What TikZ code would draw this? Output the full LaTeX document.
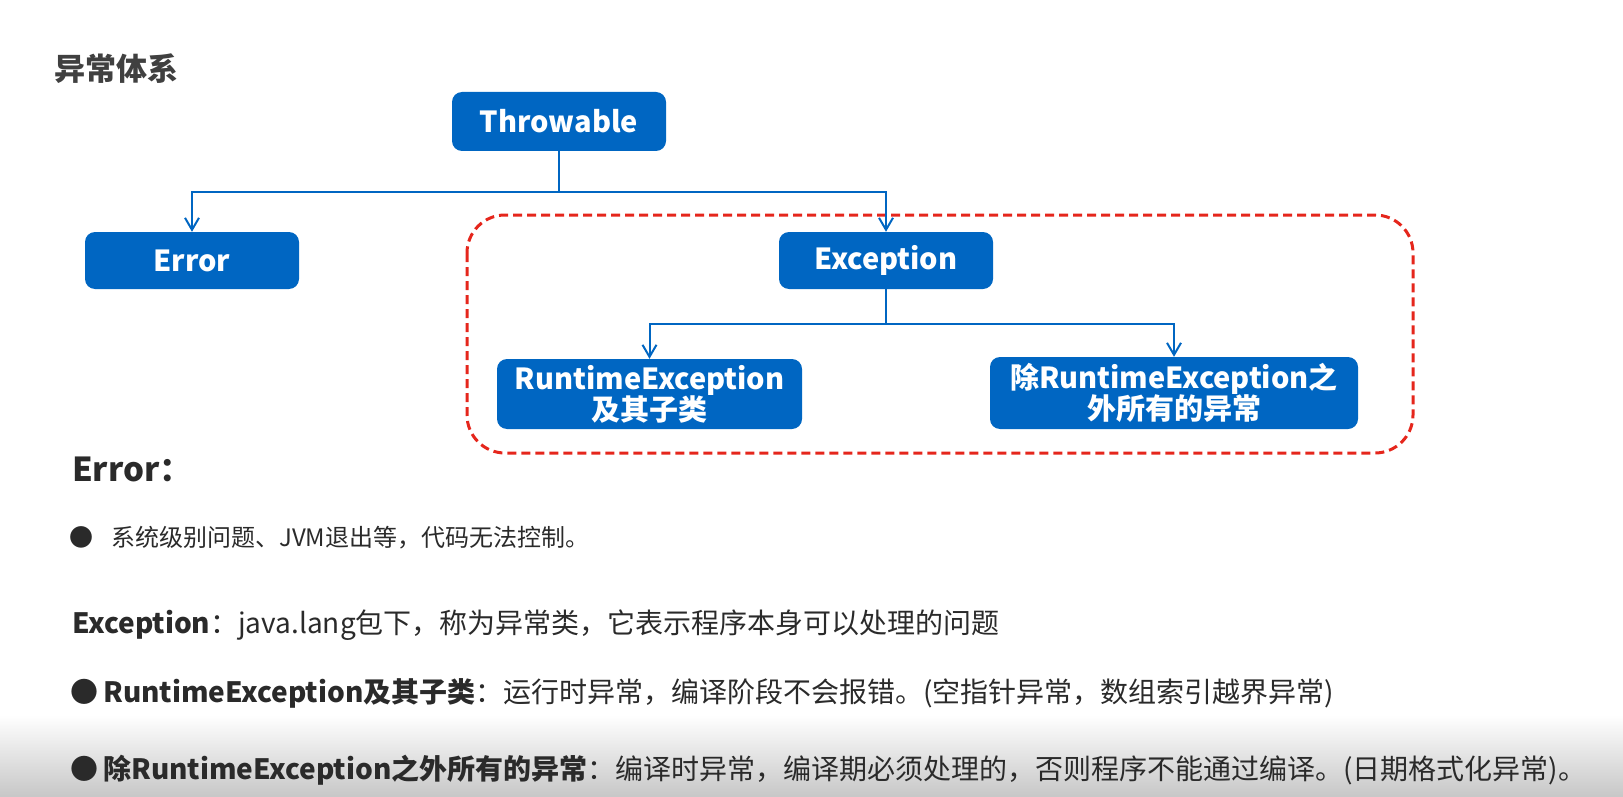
\documentclass[tikz,border=0pt]{standalone}
\usepackage{fontspec}
\usepackage{xcolor}
\usetikzlibrary{arrows.meta}
\setmainfont{Noto Sans CJK SC}
\definecolor{boxblue}{HTML}{0066C2}
\definecolor{dashred}{HTML}{E5261C}
\definecolor{ink}{HTML}{2A2A2A}
\tikzset{
  classbox/.style={fill=boxblue, rounded corners=10pt, text=white, inner sep=0pt,
    align=center, font=\bfseries\fontsize{29}{31}\selectfont},
  link/.style={draw=boxblue, line width=2pt},
  arr/.style={link, -{Straight Barb[length=12pt,width=14pt,line width=2pt]}},
  txt/.style={anchor=base west, inner sep=0pt, text=ink, font=\fontsize{28}{34}\selectfont}
}
\begin{document}
\begin{tikzpicture}[x=1pt, y=-1pt]
\useasboundingbox (0,0) rectangle (1623,797);
\shade[top color=white, bottom color=black!22] (0,715) rectangle (1623,797);
\node[txt, font=\bfseries\fontsize{31}{34}\selectfont, text=black!75] (title) at (54,81) {异常体系};
% hierarchy
\node[classbox, minimum width=214pt, minimum height=59pt] (throwable) at (559,121.5) {Throwable};
\node[classbox, minimum width=214pt, minimum height=57pt] (error) at (192,260.5) {Error};
\node[classbox, minimum width=214pt, minimum height=57pt] (exception) at (886,260.5) {Exception};
\node[classbox, minimum width=305pt, minimum height=70pt] (runtime) at (649.5,394) {RuntimeException\\及其子类};
\node[classbox, minimum width=368pt, minimum height=72pt] (checked) at (1174,393) {除RuntimeException之\\外所有的异常};
\draw[dashred, line width=3pt, dash pattern=on 9pt off 5pt, rounded corners=38pt] (467,215) rectangle (1413,453);
\coordinate (tsplit) at (559,192);
\coordinate (esplit) at (886,324);
\draw[link] (throwable.south) -- (tsplit);
\draw[arr] (tsplit) -| (error.north);
\draw[arr] (tsplit) -| (exception.north);
\draw[link] (exception.south) -- (esplit);
\draw[arr] (esplit) -| (runtime.north);
\draw[arr] (esplit) -| (checked.north);
% notes
\node[txt, font=\bfseries\fontsize{33}{36}\selectfont] (errhead) at (72,481) {Error：};
\node[txt, font=\fontsize{24}{28}\selectfont] (errbullet) at (69,546) {●};
\node[txt, font=\fontsize{24}{28}\selectfont] (errnote) at (111,546) {系统级别问题、JVM退出等，代码无法控制。};
\node[txt] (excnote) at (72,633) {\textbf{Exception}：java.lang包下，称为异常类，它表示程序本身可以处理的问题};
\node[txt] (rtbullet) at (70,702) {●};
\node[txt] (rtnote) at (103,702) {\textbf{RuntimeException及其子类}：运行时异常，编译阶段不会报错。(空指针异常，数组索引越界异常)};
\node[txt] (ckbullet) at (70,779) {●};
\node[txt] (cknote) at (103,779) {\textbf{除RuntimeException之外所有的异常}：编译时异常，编译期必须处理的，否则程序不能通过编译。(日期格式化异常)。};
\end{tikzpicture}
\end{document}
